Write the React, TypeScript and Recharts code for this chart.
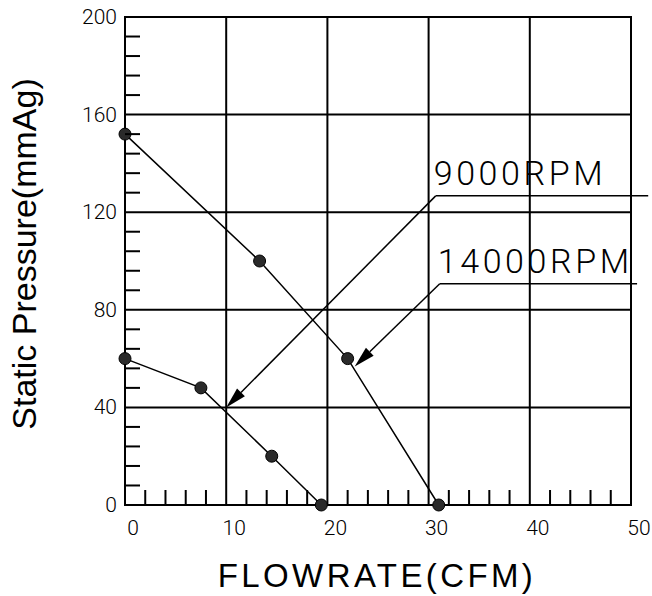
import { LineChart, Line, XAxis, YAxis, ReferenceLine, ReferenceArea } from "recharts";

const flow9000 = [0, 7.5, 14.5, 19.4];
const pressure9000 = [60, 48, 20, 0];
const flow14000 = [0, 13.3, 22, 31];
const pressure14000 = [152, 100, 60, 0];

const xTicks = [0, 2, 4, 6, 8, 10, 12, 14, 16, 18, 20, 22, 24, 26, 28, 30, 32, 34, 36, 38, 40, 42, 44, 46, 48, 50];
const yTicks = [0, 8, 16, 24, 32, 40, 48, 56, 64, 72, 80, 88, 96, 104, 112, 120, 128, 136, 144, 152, 160, 168, 176, 184, 192, 200];
const xGrid = [10, 20, 30, 40];
const yGrid = [40, 80, 120, 160];

// callouts: label, shelf height, shelf start / elbow, arrow tip
const calloutLabels = ["9000RPM", "14000RPM"];
const calloutShelfY = [126.7, 90.7];
const calloutShelfStart = [51.7, 50.6];
const calloutElbowX = [30.7, 31.1];
const calloutTipX = [10, 22.7];
const calloutTipY = [40, 56.8];

const INK = "#000";
const TICK_FONT = "Roboto, 'Liberation Sans', sans-serif";

const toPoints = (xs: number[], ys: number[]) => xs.map((x, i) => ({ x, y: ys[i] }));

function XTick({ x, y, payload }: any) {
  const v = payload.value;
  const major = v % 10 === 0;
  return (
    <g>
      {!major && <line x1={x} x2={x} y1={y} y2={y - 15} stroke={INK} strokeWidth={2} />}
      {major && (
        <text x={x + 8} y={y + 23} textAnchor="middle" dominantBaseline="central"
          fontFamily={TICK_FONT} fontWeight={300} fontSize={21} fill={INK}>
          {v}
        </text>
      )}
    </g>
  );
}

function YTick({ x, y, payload }: any) {
  const v = payload.value;
  const major = v % 40 === 0;
  return (
    <g>
      {!major && <line x1={x} x2={x + 15} y1={y} y2={y} stroke={INK} strokeWidth={2} />}
      {major && (
        <text x={x - 8} y={y} textAnchor="end" dominantBaseline="central"
          fontFamily={TICK_FONT} fontWeight={300} fontSize={21} fill={INK}>
          {v}
        </text>
      )}
    </g>
  );
}

function Shelf(label: string) {
  return (props: any) => {
    const { x1, y1, x2, y2 } = props;
    const left = Math.min(x1, x2);
    return (
      <g>
        <line x1={x1} y1={y1} x2={x2} y2={y2} stroke={INK} strokeWidth={1.5} />
        <text x={left - 2} y={y1 - 11} fontFamily={TICK_FONT} fontWeight={300}
          fontSize={34} letterSpacing={3.6} fill={INK}>
          {label}
        </text>
      </g>
    );
  };
}

function Arrow(props: any) {
  const { x1, y1, x2, y2 } = props;
  const dx = x2 - x1;
  const dy = y2 - y1;
  const len = Math.hypot(dx, dy);
  const ux = dx / len;
  const uy = dy / len;
  const bx = x2 - ux * 21;
  const by = y2 - uy * 21;
  const px = -uy * 5.5;
  const py = ux * 5.5;
  return (
    <g>
      <line x1={x1} y1={y1} x2={bx} y2={by} stroke={INK} strokeWidth={1.5} />
      <polygon points={`${x2},${y2} ${bx + px},${by + py} ${bx - px},${by - py}`} fill={INK} />
    </g>
  );
}

export default function App() {
  const dot = { r: 6, fill: "#2a2a2a", stroke: INK, strokeWidth: 1 };
  return (
    <div style={{ position: "absolute", left: 0, top: 0, background: "#fff" }}>
      <LineChart width={652} height={596} margin={{ top: 17, right: 21, bottom: 31, left: 0 }}>
        <XAxis dataKey="x" type="number" domain={[0, 50]} ticks={xTicks} interval={0}
          tick={<XTick />} tickSize={0} tickMargin={0} axisLine={false} height={60} />
        <YAxis type="number" domain={[0, 200]} ticks={yTicks} interval={0}
          tick={<YTick />} tickSize={0} tickMargin={0} axisLine={false} width={125} />

        {xGrid.map((v) => (
          <ReferenceLine key={`gx${v}`} x={v} stroke={INK} strokeWidth={2} />
        ))}
        {yGrid.map((v) => (
          <ReferenceLine key={`gy${v}`} y={v} stroke={INK} strokeWidth={2} />
        ))}
        <ReferenceArea x1={0} x2={50} y1={0} y2={200} fill="none" stroke={INK} strokeWidth={2} />

        <Line data={toPoints(flow9000, pressure9000)} dataKey="y" stroke={INK} strokeWidth={1.5}
          dot={dot} isAnimationActive={false} />
        <Line data={toPoints(flow14000, pressure14000)} dataKey="y" stroke={INK} strokeWidth={1.5}
          dot={dot} isAnimationActive={false} />

        {calloutLabels.map((label, i) => (
          <ReferenceLine key={`s${i}`} ifOverflow="visible"
            segment={[{ x: calloutShelfStart[i], y: calloutShelfY[i] }, { x: calloutElbowX[i], y: calloutShelfY[i] }]}
            shape={Shelf(label)} />
        ))}
        {calloutLabels.map((label, i) => (
          <ReferenceLine key={`a${i}`} ifOverflow="visible"
            segment={[{ x: calloutElbowX[i], y: calloutShelfY[i] }, { x: calloutTipX[i], y: calloutTipY[i] }]}
            shape={Arrow} />
        ))}

        <text transform="translate(24,254) rotate(-90)" textAnchor="middle" dominantBaseline="central"
          fontFamily="'Liberation Sans', Arial, sans-serif" fontSize={34} fill={INK}>
          Static Pressure(mmAg)
        </text>
        <text x={377} y={587} textAnchor="middle"
          fontFamily="'Liberation Sans', Arial, sans-serif" fontSize={33} letterSpacing={3.4} fill={INK}>
          FLOWRATE(CFM)
        </text>
      </LineChart>
    </div>
  );
}
